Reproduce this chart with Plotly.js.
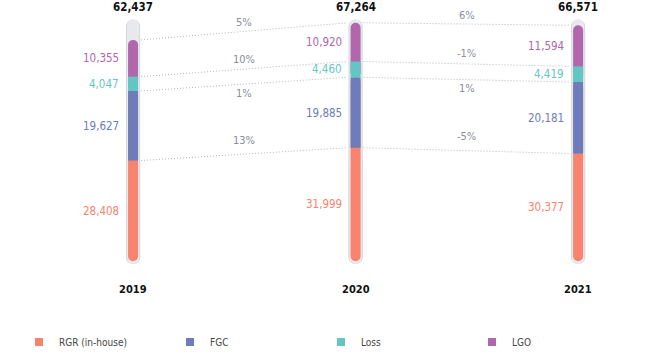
<!DOCTYPE html>
<html><head><meta charset="utf-8">
<script src="https://cdn.plot.ly/plotly-3.0.1.min.js"></script>
<style>html,body{margin:0;padding:0;background:#fff}#chart{width:668px;height:357px}</style>
</head><body><div id="chart"></div>
<script>
// ---- data ----
var years = ['2019', '2020', '2021'];
var seriesNames = ['RGR (in-house)', 'FGC', 'Loss', 'LGO'];
var rgr  = [28408, 31999, 30377];
var fgc  = [19627, 19885, 20181];
var loss = [4047, 4460, 4419];
var lgo  = [10355, 10920, 11594];

// ---- styles ----
var colors = ['#F8836F', '#6D7CBA', '#62C7C2', '#B067AC'];
var FONT = '"DejaVu Sans Condensed", "Liberation Sans Narrow", Roboto, sans-serif';
var pctShift = [14, -9, 10, 9]; // label offset (px) from line midpoint, per series
var CAP_TOP = 68200, CAP_BOT = -825, CAP_MID = 30000;

var series = [rgr, fgc, loss, lgo];
var xs = years.map(function (_, i) { return i; });
var bottoms = [], tops = [];
var run = xs.map(function () { return 0; });
series.forEach(function (s) {
  bottoms.push(run.slice());
  run = run.map(function (v, i) { return v + s[i]; });
  tops.push(run.slice());
});
var totals = run;
function fmt(v) { return v.toLocaleString('en-US'); }
function cst(v) { return xs.map(function () { return v; }); }

var traces = [];
// dotted connector lines
var dx = 0.036;
series.forEach(function (s, k) {
  for (var i = 0; i < xs.length - 1; i++) {
    traces.push({type: 'scatter', mode: 'lines', x: [xs[i] + dx, xs[i + 1] - dx],
      y: [tops[k][i], tops[k][i + 1]], line: {color: '#b4b7be', width: 1, dash: '1px,2px'},
      showlegend: false, hoverinfo: 'skip'});
  }
});
// capsule background (two overlapping pieces so both ends are rounded)
function bar(base, y, width, color, radius) {
  var t = {type: 'bar', x: xs, base: base, y: y, width: width,
    marker: {color: color}, showlegend: false, hoverinfo: 'skip'};
  if (radius) t.marker.cornerradius = radius;
  traces.push(t);
}
function capsule(width, color) {
  bar(cst(CAP_BOT), cst(CAP_TOP - CAP_BOT), width, color, '50%');
  bar(cst(CAP_MID), cst(CAP_BOT - CAP_MID), width, color, '50%');
}
capsule(0.064, '#d5d8dd');
capsule(0.055, '#e7e9ec');
// colored stack: rounded ends, square joints
var W = 0.045;
bar(tops[1], tops[1].map(function (v) { return -v; }), W, colors[0], '50%');           // RGR (extends under FGC)
bar(bottoms[1], fgc, W, colors[1]);                                                   // FGC covers RGR's top
bar(bottoms[2], totals.map(function (v, i) { return v - bottoms[2][i]; }), W, colors[3], '50%'); // LGO (extends under Loss)
bar(bottoms[2], loss, W, colors[2]);                                                  // Loss covers LGO's bottom
// legend entries
series.forEach(function (s, k) {
  traces.push({type: 'scatter', mode: 'markers', x: [null], y: [null], name: seriesNames[k],
    marker: {symbol: 'square', size: 8, color: colors[k]}, showlegend: true});
});

var ann = [];
xs.forEach(function (x, i) {
  ann.push({x: x, y: CAP_TOP, yanchor: 'bottom', yshift: 3, text: '<b>' + fmt(totals[i]) + '</b>',
    showarrow: false, font: {family: FONT, size: 11.5, color: '#111'}});
  ann.push({x: x, y: 0, yanchor: 'top', yshift: -20, text: '<b>' + years[i] + '</b>',
    showarrow: false, font: {family: FONT, size: 11, color: '#111'}});
  series.forEach(function (s, k) {
    ann.push({x: x, y: (bottoms[k][i] + tops[k][i]) / 2, xanchor: 'right', xshift: -12,
      yanchor: 'middle', text: fmt(s[i]), showarrow: false,
      font: {family: FONT, size: 11.5, color: colors[k]}});
  });
});
series.forEach(function (s, k) {
  for (var i = 0; i < xs.length - 1; i++) {
    var p = Math.round((s[i + 1] - s[i]) / s[i] * 100);
    ann.push({x: (xs[i] + xs[i + 1]) / 2, y: (tops[k][i] + tops[k][i + 1]) / 2,
      yanchor: 'middle', yshift: pctShift[k], text: p + '%', showarrow: false,
      font: {family: FONT, size: 11, color: '#8a8e9b'}});
  }
});

var layout = {
  width: 668, height: 357, margin: {l: 0, r: 0, t: 0, b: 82},
  paper_bgcolor: '#fff', plot_bgcolor: '#fff', barmode: 'overlay',
  xaxis: {range: [-0.598, 2.404], visible: false, fixedrange: true},
  yaxis: {range: [-1925, 73700], visible: false, fixedrange: true},
  showlegend: true,
  legend: {orientation: 'h', x: 19 / 668, xanchor: 'left', y: (275 - 351) / 275, yanchor: 'middle',
    entrywidth: 106, entrywidthmode: 'pixels', font: {family: FONT, size: 10, color: '#444'},
    bgcolor: 'rgba(0,0,0,0)'},
  annotations: ann
};
Plotly.newPlot('chart', traces, layout, {displayModeBar: false, staticPlot: true});
</script></body></html>
